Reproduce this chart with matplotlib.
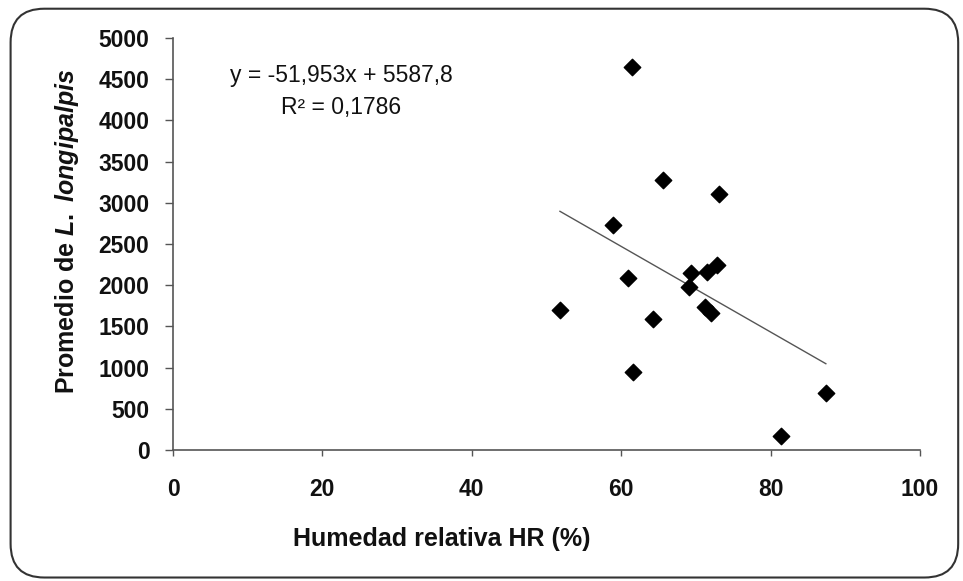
import numpy as np
import matplotlib.pyplot as plt
from matplotlib.patches import FancyBboxPatch

# Data
humedad = [51.8, 58.9, 60.9, 61.5, 61.6, 64.2, 65.6, 69.1, 69.4, 71.2,
           71.5, 72.0, 72.8, 73.1, 81.4, 87.4]
promedio = [1700, 2730, 2090, 4650, 950, 1585, 3275, 1975, 2150, 1740,
            2165, 1665, 2245, 3105, 170, 695]

# Trendline coefficients as printed on the chart
slope = -51.953
intercept = 5587.8
r2 = 0.1786

plt.rcParams['font.family'] = ['Liberation Sans', 'DejaVu Sans']
plt.rcParams['mathtext.fontset'] = 'custom'
plt.rcParams['mathtext.it'] = 'Liberation Sans:italic:bold'
plt.rcParams['mathtext.rm'] = 'Liberation Sans:bold'

fig = plt.figure(figsize=(9.63, 5.81), dpi=100)

# rounded frame around the whole chart
frame = FancyBboxPatch((0.011, 0.006), 0.984, 0.979,
                       boxstyle='round,pad=0,rounding_size=0.035',
                       transform=fig.transFigure, facecolor='white',
                       edgecolor='#333333', linewidth=1.5,
                       mutation_aspect=963 / 581, zorder=-10)
fig.patches.append(frame)

ax = fig.add_axes([0.1797, 0.2255, 0.7756, 0.7091])
ax.set_facecolor('none')

ax.scatter(humedad, promedio, marker='D', s=70, color='black', zorder=3)

xs = np.array([min(humedad), max(humedad)])
ax.plot(xs, slope * xs + intercept, color='#555555', linewidth=1.0)

ax.set_xlim(0, 100)
ax.set_ylim(0, 5000)
ax.set_xticks(np.arange(0, 101, 20))
ax.set_yticks(np.arange(0, 5001, 500))

for side in ['top', 'right']:
    ax.spines[side].set_visible(False)
for side in ['left', 'bottom']:
    ax.spines[side].set_color('#555555')
    ax.spines[side].set_linewidth(1.2)

ax.tick_params(axis='both', direction='out', width=1.0,
               color='#555555', labelsize=16.5, labelcolor='#111111')
ax.tick_params(axis='x', length=4, pad=16)
ax.tick_params(axis='y', length=6, pad=11)
for lbl in ax.get_xticklabels() + ax.get_yticklabels():
    lbl.set_fontweight('bold')

ax.set_xlabel('Humedad relativa HR (%)', fontsize=18, fontweight='bold',
              color='#111111')
ax.xaxis.set_label_coords(0.36, -0.187)
ax.set_ylabel(r'Promedio de $L.\ longipalpis$', fontsize=18,
              fontweight='bold', color='#111111')
ax.yaxis.label.set_va('center')
ax.yaxis.set_label_coords(-0.142, 0.53)

eq = 'y = {:.3f}x + {:.1f}'.format(slope, intercept).replace('.', ',')
ax.text(0.225, 0.910, eq, transform=ax.transAxes, ha='center',
        va='center', fontsize=16.5, color='#111111')
ax.text(0.225, 0.8325, 'R² = {:.4f}'.format(r2).replace('.', ','),
        transform=ax.transAxes, ha='center', va='center', fontsize=16.5,
        color='#111111')

fig.savefig('out.png', dpi=100)
